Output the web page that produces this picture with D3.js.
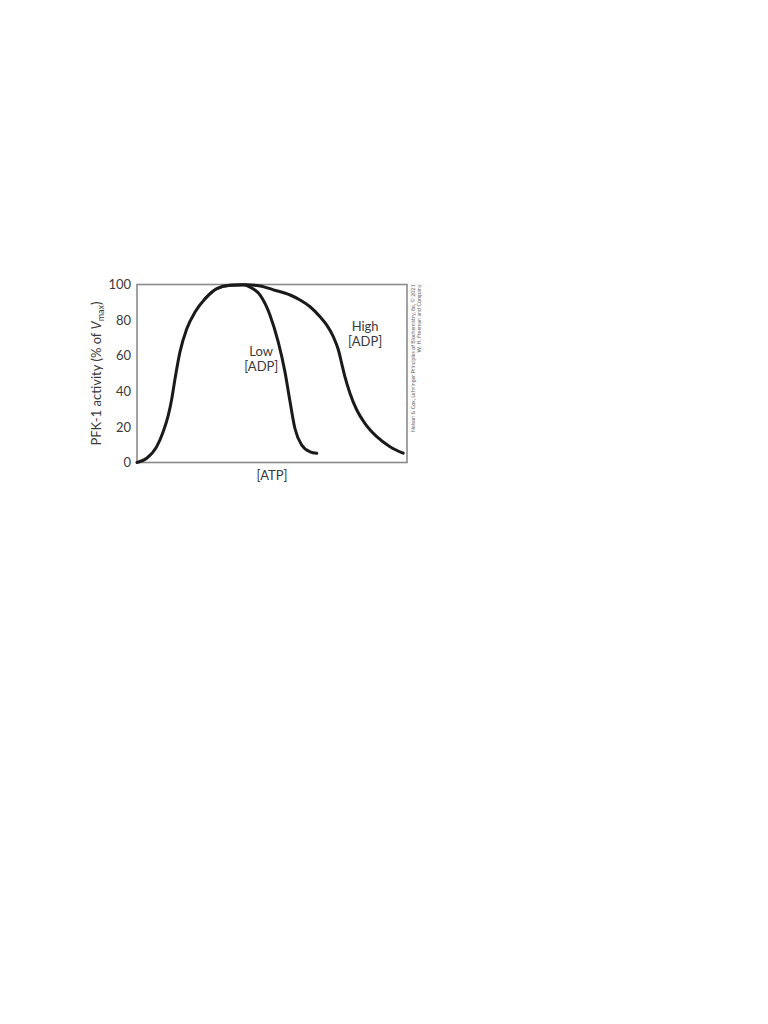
<!DOCTYPE html>
<html>
<head>
<meta charset="utf-8">
<script src="https://cdn.jsdelivr.net/npm/d3@7"></script>
<style>
  body { margin: 0; background: #fff; }
</style>
</head>
<body>
<div id="chart"></div>
<script>
// [ATP] on an arbitrary 0-100 scale, activity in % of Vmax
const yTicks = [0, 20, 40, 60, 80, 100];

const lowAtp = [0, 3.6, 7.3, 9.7, 11.6, 12.9, 14.1, 15.9, 18.4, 21.5, 25.2, 29.5, 34.4, 39.3, 41.9, 45.6, 49.3, 52.3, 54.8, 56.7, 58.5, 61, 64.1, 66.6];
const lowAct = [0, 2.4, 8.9, 17.3, 26.6, 36, 47.2, 62, 75, 84.5, 92, 97.6, 99.6, 99.8, 98.5, 94, 82.6, 67.7, 50.9, 34, 19.1, 9.8, 6, 5.2];

const highAtp = [25.2, 29.5, 34.4, 40.6, 45.6, 50.5, 56.7, 60.4, 64.1, 67.8, 70.3, 72.7, 74.6, 75.8, 77, 78.9, 81.4, 84.4, 88.8, 93.7, 98.6];
const highAct = [92, 97.6, 99.6, 99.8, 99.2, 97, 94.1, 91.3, 87.5, 81.9, 77.2, 70.7, 63.2, 55.7, 48.2, 38.8, 29.5, 22, 14.5, 8.9, 5.2];

const width = 768;
const height = 1024;
const marginLeft = 137;
const marginRight = 361;
const marginTop = 284.5;
const marginBottom = 561.5;

const svg = d3.select("#chart")
  .append("svg")
  .attr("width", width)
  .attr("height", height)
  .style("font-family", "Lato, 'Open Sans', sans-serif");

const x = d3.scaleLinear()
  .domain([0, 100])
  .range([marginLeft, width - marginRight]);

const y = d3.scaleLinear()
  .domain([0, 100])
  .range([height - marginBottom, marginTop]);

// frame
svg.append("rect")
  .attr("x", x(0))
  .attr("y", y(100))
  .attr("width", x(100) - x(0))
  .attr("height", y(0) - y(100))
  .attr("fill", "none")
  .attr("stroke", "#8a8a8a")
  .attr("stroke-width", 1.6);

// y axis labels only, no tick marks
svg.append("g")
  .attr("transform", `translate(${x(0)},0)`)
  .call(d3.axisLeft(y).tickValues(yTicks).tickSize(0).tickPadding(6))
  .call(g => g.select(".domain").remove())
  .selectAll("text")
  .attr("fill", "#3a3a3a")
  .style("font-size", "13px")
  .style("font-family", "Lato, 'Open Sans', sans-serif");

// y title
const yTitle = svg.append("text")
  .attr("transform", `translate(101,${(y(0) + y(100)) / 2}) rotate(-90)`)
  .attr("text-anchor", "middle")
  .attr("fill", "#3a3a3a")
  .style("font-size", "13px");
yTitle.append("tspan").text("PFK-1 activity (% of ");
yTitle.append("tspan").attr("font-style", "italic").text("V");
yTitle.append("tspan").attr("dy", 3).style("font-size", "9px").text("max");
yTitle.append("tspan").attr("dy", -3).text(")");

// x title
svg.append("text")
  .attr("x", (x(0) + x(100)) / 2)
  .attr("y", y(0) + 17)
  .attr("text-anchor", "middle")
  .attr("fill", "#3a3a3a")
  .style("font-size", "13px")
  .text("[ATP]");

const line = d3.line()
  .x(d => x(d[0]))
  .y(d => y(d[1]))
  .curve(d3.curveMonotoneX);

const lowData = d3.zip(lowAtp, lowAct);
const highData = d3.zip(highAtp, highAct);

svg.append("path")
  .datum(highData)
  .attr("fill", "none")
  .attr("stroke", "#1a1a1a")
  .attr("stroke-width", 3)
  .attr("stroke-linecap", "round")
  .attr("d", line);

svg.append("path")
  .datum(lowData)
  .attr("fill", "none")
  .attr("stroke", "#1a1a1a")
  .attr("stroke-width", 3)
  .attr("stroke-linecap", "round")
  .attr("d", line);

// curve labels
const labels = [
  { atp: 46, act: 60, lines: ["Low", "[ADP]"] },
  { atp: 84.5, act: 74, lines: ["High", "[ADP]"] }
];
labels.forEach(l => {
  const t = svg.append("text")
    .attr("text-anchor", "middle")
    .attr("fill", "#3a3a3a")
    .style("font-size", "13px");
  l.lines.forEach((s, i) => {
    t.append("tspan")
      .attr("x", x(l.atp))
      .attr("y", y(l.act) + i * 15)
      .text(s);
  });
});

// credit line, rotated
const credit = svg.append("text")
  .attr("transform", `translate(${x(100) + 8},${y(100)}) rotate(-90)`)
  .attr("text-anchor", "end")
  .attr("fill", "#666")
  .style("font-size", "5.3px");
credit.append("tspan").attr("x", 0).attr("y", 0)
  .text("Nelson & Cox, Lehninger Principles of Biochemistry, 8e, © 2021");
credit.append("tspan").attr("x", 0).attr("y", 6)
  .text("W. H. Freeman and Company");
</script>
</body>
</html>
